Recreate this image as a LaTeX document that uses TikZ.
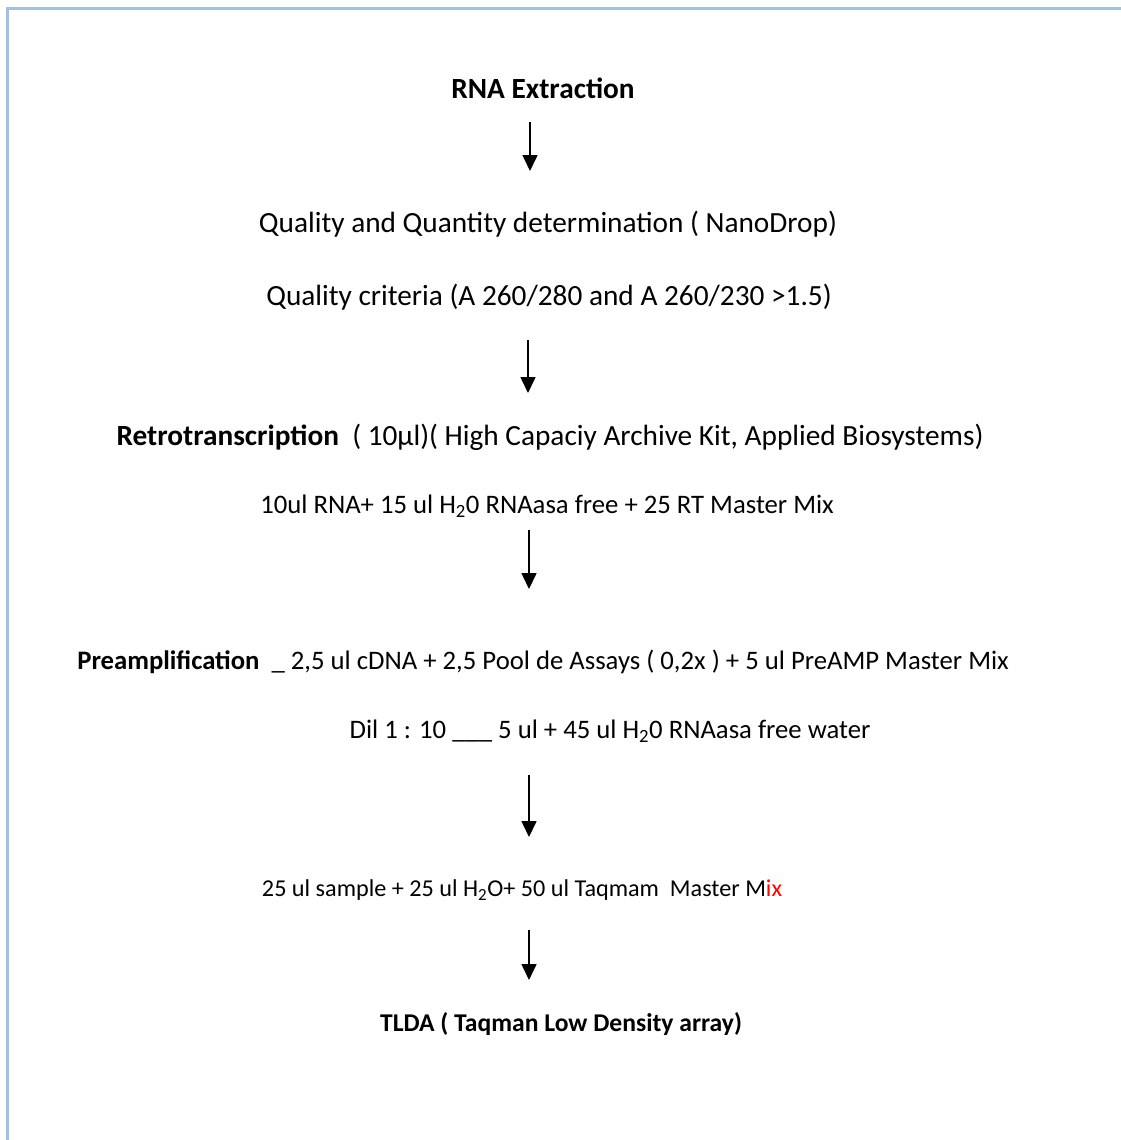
\documentclass[tikz,border=0pt]{standalone}
\usepackage{fontspec}
\setmainfont{Carlito}
\usetikzlibrary{arrows.meta}
\definecolor{framecol}{RGB}{166,191,220}
\definecolor{redtxt}{RGB}{255,0,0}
\tikzset{
  txt/.style={inner sep=0pt, anchor=center},
  eleven/.style={txt, font=\fontsize{29.3}{34}\selectfont},
  elevenb/.style={txt, font=\fontsize{29.3}{34}\selectfont\bfseries},
  ten/.style={txt, font=\fontsize{26.7}{31}\selectfont},
  tenb/.style={txt, font=\fontsize{25.6}{30}\selectfont\bfseries},
  nine/.style={txt, font=\fontsize{24.2}{28}\selectfont},
  flow/.style={line width=1.6pt, -{Triangle[width=15pt,length=16pt]}}
}
\begin{document}
\begin{tikzpicture}[x=1pt,y=-1pt]
\useasboundingbox (0,0) rectangle (1120,1140);
\fill[white] (0,0) rectangle (1120,1140);
\draw[framecol, line width=3pt] (1130,8.5) -- (7,8.5) -- (7,1150);

\node[elevenb] (n1) at (543,88) {RNA Extraction};
\node[eleven] (n2) at (548,224) {Quality and Quantity determination ( NanoDrop)};
\node[eleven] (n3) at (549,297) {Quality criteria (A 260/280 and A 260/230 >1.5)};
\node[eleven] (n4) at (550,437) {\textbf{Retrotranscription}\ \ ( 10µl)( High Capaciy Archive Kit, Applied Biosystems)};
\node[ten] (n5) at (547,506) {10ul RNA+ 15 ul H\textsubscript{2}0 RNAasa free + 25 RT Master Mix};
\node[ten] (n6) at (543,662) {\textbf{Preamplification}\ \ \_ 2,5 ul cDNA + 2,5 Pool de Assays ( 0,2x ) + 5 ul PreAMP Master Mix};
\node[ten] (n7) at (610,731) {Dil 1 : 10 \_\_\_ 5 ul + 45 ul H\textsubscript{2}0 RNAasa free water};
\node[nine] (n8) at (522,890) {25 ul sample + 25 ul H\textsubscript{2}O+ 50 ul Taqmam\ \ Master M\textcolor{redtxt}{ix}};
\node[tenb] (n9) at (561,1024) {TLDA ( Taqman Low Density array)};

\coordinate (a1s) at (530,122); \coordinate (a1e) at (530,171);
\coordinate (a2s) at (528,340); \coordinate (a2e) at (528,393);
\coordinate (a3s) at (529,530); \coordinate (a3e) at (529,589);
\coordinate (a4s) at (529,775); \coordinate (a4e) at (529,837);
\coordinate (a5s) at (529,930); \coordinate (a5e) at (529,980);
\draw[flow] (a1s) -- (a1e);
\draw[flow] (a2s) -- (a2e);
\draw[flow] (a3s) -- (a3e);
\draw[flow] (a4s) -- (a4e);
\draw[flow] (a5s) -- (a5e);
\end{tikzpicture}
\end{document}
